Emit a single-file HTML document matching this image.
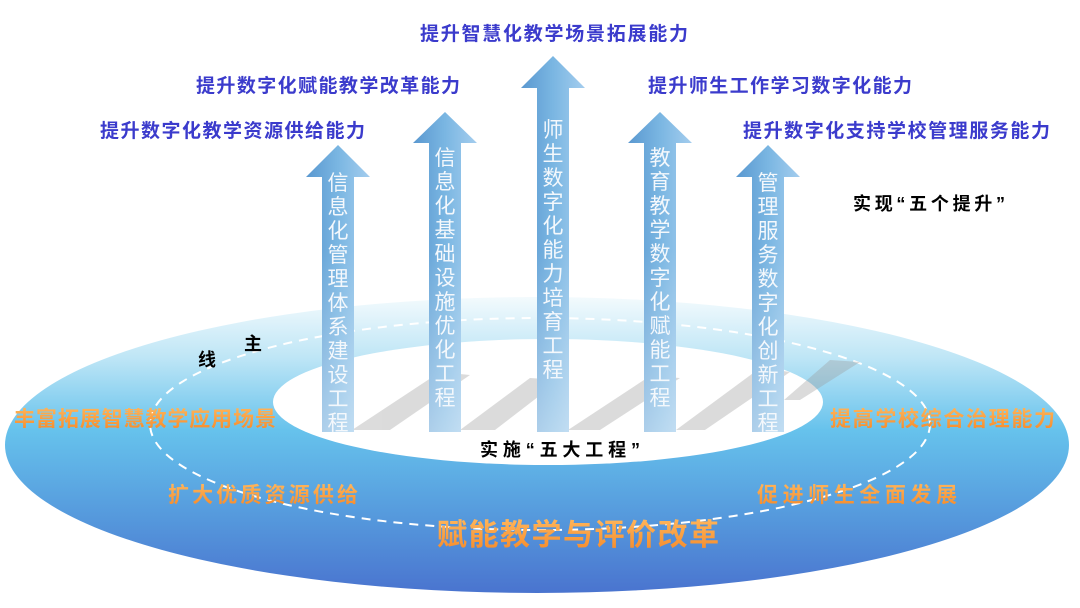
<!DOCTYPE html>
<html><head><meta charset="utf-8"><style>
html,body{margin:0;padding:0;background:#fff;width:1080px;height:608px;overflow:hidden}
svg text{font-family:"Liberation Sans","Noto Sans CJK SC",sans-serif}
</style></head><body>
<svg width="1080" height="608" viewBox="0 0 1080 608" xmlns="http://www.w3.org/2000/svg">
<defs>
<linearGradient id="ring" x1="0" y1="298" x2="0" y2="593" gradientUnits="userSpaceOnUse">
<stop offset="0" stop-color="#f2fafd"/>
<stop offset="0.2" stop-color="#bfe6f6"/>
<stop offset="0.45" stop-color="#66c2ec"/>
<stop offset="0.75" stop-color="#5598dc"/>
<stop offset="1" stop-color="#4a74cf"/>
</linearGradient>
<linearGradient id="arr" x1="0" y1="0" x2="1" y2="0">
<stop offset="0" stop-color="#5a98d0"/>
<stop offset="0.5" stop-color="#7ab6e2"/>
<stop offset="1" stop-color="#a4cdee"/>
</linearGradient>
<linearGradient id="arrv" x1="0" y1="0" x2="0" y2="1">
<stop offset="0" stop-color="#fff" stop-opacity="0"/>
<stop offset="1" stop-color="#fff" stop-opacity="0.45"/>
</linearGradient>
<linearGradient id="org" x1="0" y1="0" x2="0" y2="1">
<stop offset="0" stop-color="#ffb55a"/>
<stop offset="1" stop-color="#f58a2a"/>
</linearGradient>
</defs>
<ellipse cx="537" cy="445" rx="532" ry="148" fill="url(#ring)"/>
<ellipse cx="548" cy="402" rx="275" ry="63" fill="#fff"/>
<ellipse cx="540" cy="424" rx="390" ry="106" fill="none" stroke="#fff" stroke-width="2" stroke-dasharray="9 7"/>
<g fill="#9a9a9a" opacity="0.35">
<polygon points="352,430 390,430 470,375 440,372"/>
<polygon points="460,430 495,430 560,380 530,378"/>
<polygon points="568,430 600,430 680,378 650,376"/>
<polygon points="676,430 705,430 790,372 760,368"/>
<polygon points="784,400 800,400 860,362 830,360"/>
</g>
<g>
<polygon points="338,145 370,177 354,177 354,432 322,432 322,177 306,177" fill="url(#arr)"/>
<polygon points="445,112 477,143 461,143 461,432 429,432 429,143 413,143" fill="url(#arr)"/>
<polygon points="553,56 585,88 569,88 569,432 537,432 537,88 521,88" fill="url(#arr)"/>
<polygon points="660,112 692,143 676,143 676,432 644,432 644,143 628,143" fill="url(#arr)"/>
<polygon points="768,145 800,177 784,177 784,432 752,432 752,177 736,177" fill="url(#arr)"/>
<rect x="322" y="250" width="32" height="182" fill="url(#arrv)"/>
<rect x="429" y="250" width="32" height="182" fill="url(#arrv)"/>
<rect x="537" y="250" width="32" height="182" fill="url(#arrv)"/>
<rect x="644" y="250" width="32" height="182" fill="url(#arrv)"/>
<rect x="752" y="250" width="32" height="182" fill="url(#arrv)"/>
</g>
<g fill="#f4f8fc" font-size="21" text-anchor="middle">
<text x="338" y="190"><tspan x="338" dy="0">信</tspan><tspan x="338" dy="24">息</tspan><tspan x="338" dy="24">化</tspan><tspan x="338" dy="24">管</tspan><tspan x="338" dy="24">理</tspan><tspan x="338" dy="24">体</tspan><tspan x="338" dy="24">系</tspan><tspan x="338" dy="24">建</tspan><tspan x="338" dy="24">设</tspan><tspan x="338" dy="24">工</tspan><tspan x="338" dy="24">程</tspan></text>
<text x="445" y="165"><tspan x="445" dy="0">信</tspan><tspan x="445" dy="24">息</tspan><tspan x="445" dy="24">化</tspan><tspan x="445" dy="24">基</tspan><tspan x="445" dy="24">础</tspan><tspan x="445" dy="24">设</tspan><tspan x="445" dy="24">施</tspan><tspan x="445" dy="24">优</tspan><tspan x="445" dy="24">化</tspan><tspan x="445" dy="24">工</tspan><tspan x="445" dy="24">程</tspan></text>
<text x="553" y="137"><tspan x="553" dy="0">师</tspan><tspan x="553" dy="24">生</tspan><tspan x="553" dy="24">数</tspan><tspan x="553" dy="24">字</tspan><tspan x="553" dy="24">化</tspan><tspan x="553" dy="24">能</tspan><tspan x="553" dy="24">力</tspan><tspan x="553" dy="24">培</tspan><tspan x="553" dy="24">育</tspan><tspan x="553" dy="24">工</tspan><tspan x="553" dy="24">程</tspan></text>
<text x="660" y="165"><tspan x="660" dy="0">教</tspan><tspan x="660" dy="24">育</tspan><tspan x="660" dy="24">教</tspan><tspan x="660" dy="24">学</tspan><tspan x="660" dy="24">数</tspan><tspan x="660" dy="24">字</tspan><tspan x="660" dy="24">化</tspan><tspan x="660" dy="24">赋</tspan><tspan x="660" dy="24">能</tspan><tspan x="660" dy="24">工</tspan><tspan x="660" dy="24">程</tspan></text>
<text x="768" y="190"><tspan x="768" dy="0">管</tspan><tspan x="768" dy="24">理</tspan><tspan x="768" dy="24">服</tspan><tspan x="768" dy="24">务</tspan><tspan x="768" dy="24">数</tspan><tspan x="768" dy="24">字</tspan><tspan x="768" dy="24">化</tspan><tspan x="768" dy="24">创</tspan><tspan x="768" dy="24">新</tspan><tspan x="768" dy="24">工</tspan><tspan x="768" dy="24">程</tspan></text>
</g>
<g fill="#3b3bcc" font-size="19" font-weight="bold">
<text x="420" y="40" textLength="268">提升智慧化教学场景拓展能力</text>
<text x="196" y="92" textLength="264">提升数字化赋能教学改革能力</text>
<text x="648" y="92" textLength="264">提升师生工作学习数字化能力</text>
<text x="100" y="137" textLength="265">提升数字化教学资源供给能力</text>
<text x="743" y="137" textLength="307">提升数字化支持学校管理服务能力</text>
</g>
<g fill="#000" font-weight="bold">
<text x="853" y="210" font-size="18" textLength="152">实现“五个提升”</text>
<text x="480" y="456" font-size="18" textLength="160">实施“五大工程”</text>
<text x="244" y="350" font-size="18">主</text>
<text x="198" y="366" font-size="18">线</text>
</g>
<g fill="url(#org)" font-weight="bold">
<text x="14" y="426" font-size="21" textLength="262">丰富拓展智慧教学应用场景</text>
<text x="830" y="426" font-size="21" textLength="225">提高学校综合治理能力</text>
<text x="168" y="502" font-size="21" textLength="190">扩大优质资源供给</text>
<text x="757" y="502" font-size="21" textLength="200">促进师生全面发展</text>
<text x="437" y="545" font-size="30" textLength="282">赋能教学与评价改革</text>
</g>
</svg>
</body></html>
